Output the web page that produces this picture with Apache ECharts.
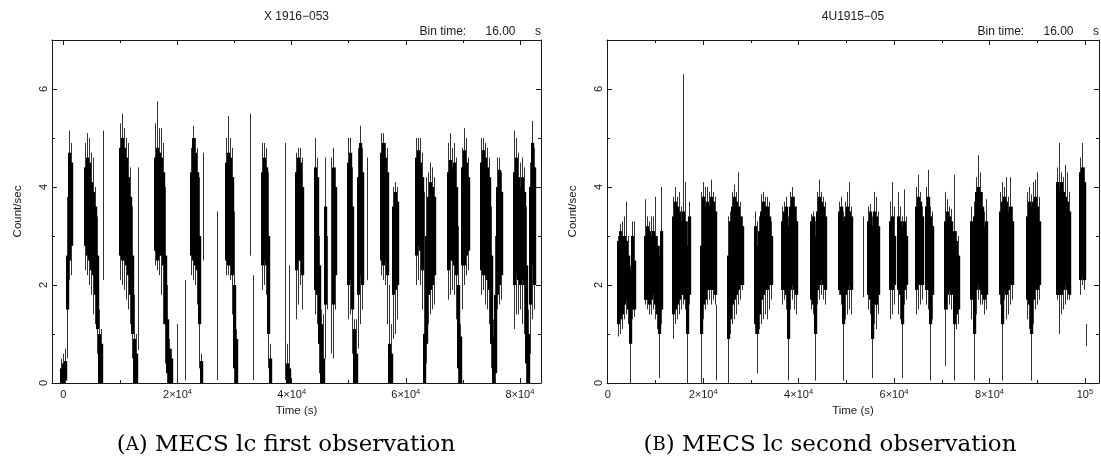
<!DOCTYPE html>
<html><head><meta charset="utf-8">
<script src="https://cdn.jsdelivr.net/npm/echarts@6/dist/echarts.min.js"></script>
<style>html,body{margin:0;padding:0;background:#fff}#c{width:1101px;height:458px}</style>
</head><body><div id="c"></div>
<script>
// ---- data: each row = [time (s), min, lowCore, highCore, max] (count/sec) ----
const lcFirst = [
[-390,0,0,0.3,0.5],[-40,0,0,0.4,0.6],[316,0,0.05,0.45,0.7],[667,0.5,1.5,2.6,3.8],[1017,2.1,2.5,4.7,5.15],[1368,2.2,2.8,4.5,4.9],
[3824,2.3,2.8,4.4,4.9],[4175,2.2,2.6,4.6,5.1],[4526,2.0,2.5,4.5,5.0],[4876,1.8,2.3,4.1,4.7],[5227,1.4,2.2,3.9,4.6],[5578,1.2,1.8,3.6,4.0],[5929,0.6,1.1,2.6,3.4],[6280,0,0,1.0,1.5],[6630,0,0,0.8,1.1],[6981,2.1,2.1,2.1,5.15],
[9963,2.1,2.6,4.8,5.3],[10314,2.0,2.5,5.0,5.5],[10665,1.9,2.5,4.8,5.2],[11015,1.7,2.4,4.6,5.0],[11366,1.5,2.2,4.2,4.9],[11717,1.2,1.8,3.8,4.4],[12068,0.5,1.0,2.6,3.6],[12419,0,0,0.9,1.8],[12769,0,0,0.6,1.0],[13120,0.67,0.67,0.67,4.4],
[16102,2.4,2.7,4.6,5.3],[16453,2.3,2.5,4.8,5.75],[16803,2.2,2.6,4.7,5.2],[17154,1.8,2.6,4.6,5.2],[17505,1.2,2.4,4.3,4.9],[17856,0.4,1.2,2.6,4.0],[18207,0,0.2,1.3,2.0],[18557,0,0,0.7,0.9],[18908,0,0,0.5,0.7],
[19961,0.05,0.05,0.05,1.2],[21364,0.05,0.05,0.05,2.1],
[22416,2.2,2.6,4.3,4.8],[22767,2.1,2.5,5.0,5.25],[23118,2.0,2.4,4.7,5.0],[23469,1.6,2.3,4.3,4.8],[23820,0.3,1.2,3.0,4.2],[24170,0,0,0.45,0.6],[24521,2.5,2.5,2.5,4.7],
[26977,0.06,0.06,0.06,3.5],
[28555,2.2,2.5,4.5,5.0],[28906,2.2,2.4,4.7,5.45],[29257,2.1,2.4,4.6,5.0],[29608,1.4,2.2,4.2,4.8],[29959,0,0.3,2.0,3.5],[30309,0,0,0.9,1.1],
[32765,2.6,2.6,2.6,5.5],[33291,0.06,0.06,0.06,2.2],
[34870,1.9,2.4,4.3,4.9],[35221,2.0,2.5,4.6,4.9],[35571,1.8,2.4,4.4,4.8],[35922,0.3,1.0,3.0,4.3],[36273,0,0,0.5,0.8],
[38904,0.06,0.06,0.06,4.9],[39255,0,0,0.4,0.8],[39606,0,0,0.3,2.4],
[40834,1.3,2.3,4.3,4.7],[41185,1.6,2.5,4.6,4.8],[41535,2.0,2.5,4.5,4.8],[41886,1.5,2.2,4.0,4.6],
[44166,1.4,1.9,4.4,5.0],[44517,1.2,1.8,4.2,4.6],[44868,0.2,0.8,2.4,3.0],[45219,0,0,1.2,1.5],[45569,0,0,0.5,1.4],[45920,0.5,1.6,3.6,4.6],[46271,1.5,1.5,1.5,3.0],[46973,0.6,0.6,0.6,4.6],[47324,0.5,1.6,4.4,4.8],[47674,1.5,2.2,4.0,4.4],
[49955,1.3,2.0,4.5,5.0],[50305,1.4,2.1,4.7,5.0],[50656,0.6,1.5,3.6,4.4],[51007,0,0,1.1,1.3],[51358,0,0,0.6,1.3],[51709,0.7,1.8,4.2,4.8],[52059,1.2,2.2,4.9,5.25],[52410,1.5,2.0,4.3,4.8],[53287,2.1,2.1,2.1,4.6],
[55743,2.2,2.5,4.7,5.1],[56094,2.1,2.4,4.9,5.1],[56445,2.0,2.5,4.6,4.9],[56795,1.2,2.2,4.3,4.8],[57146,0,0,0.8,2.0],[57497,0,0,0.6,1.2],[57848,0.9,1.8,3.6,4.0],[58199,1.0,1.9,3.9,4.1],[58549,1.3,2.0,3.7,4.0],
[61706,2.0,2.6,4.6,5.0],[62057,2.1,2.8,4.75,5.0],[62408,2.0,2.7,4.5,5.0],[62759,1.5,2.3,4.2,4.7],[63110,0,0,1.0,3.9],[63460,0.4,0.8,3.0,4.2],[63811,1.2,1.8,3.8,4.3],[64162,1.4,1.9,4.1,4.5],[64513,1.5,2.0,4.0,4.4],[64864,1.6,2.2,3.8,4.2],
[67319,1.7,2.3,4.3,4.9],[67670,1.8,2.5,4.55,5.1],[68021,1.9,2.5,4.4,4.8],[68372,1.8,2.4,4.5,4.9],[68723,1.3,2.2,4.0,4.6],[69073,0,0.3,2.0,3.2],[69424,0,0,0.95,1.2],[69775,1.5,2.4,4.4,4.8],[70126,2.0,2.4,4.75,5.2],[70477,2.2,2.6,4.5,5.0],[70827,2.3,2.7,4.2,4.6],
[73108,1.8,2.3,4.5,5.0],[73458,1.9,2.2,4.75,5.0],[73809,1.6,2.2,4.6,4.9],[74160,1.5,2.1,4.4,4.8],[74511,1.2,1.9,4.2,4.6],[74862,0.3,0.8,2.6,3.6],[75213,0,0,0.95,1.3],[75563,0,0.2,1.8,3.0],[75914,1.5,1.8,4.0,4.6],[76265,1.6,2.0,4.35,4.6],[76616,1.7,2.2,3.9,4.3],
[78896,1.1,2.0,4.3,5.15],[79247,1.4,2.2,4.6,5.0],[79598,1.4,2.1,4.2,4.7],[79949,1.5,2.0,4.0,4.5],[80300,1.2,2.1,4.2,4.6],[80651,1.0,2.0,3.9,4.4],[81001,0,0.4,2.4,3.6],[81352,0,0,1.0,1.5],[81703,0.6,1.6,4.0,4.5],[82054,1.3,2.4,4.9,5.35],[82405,1.5,2.0,4.4,4.8]
];
const lcSecond = [
[2137,0.95,1.2,2.9,3.0],[2557,1.0,1.3,3.1,3.25],[2976,1.1,1.4,3.0,3.3],[3395,1.3,1.6,3.0,3.4],[3814,1.4,1.7,2.9,3.7],[4234,1.2,1.5,2.6,3.0],[4653,0,0.8,2.3,2.4],[5072,1.3,1.5,3.0,3.3],[5491,1.35,1.5,2.5,3.3],
[7797,1.6,1.7,3.0,3.75],[8216,1.5,1.7,3.2,3.4],[8635,1.4,1.6,3.1,3.3],[9055,1.4,1.7,3.0,3.4],[9474,1.5,1.8,3.1,3.4],[9893,1.3,1.6,3.0,3.8],[10312,1.1,1.4,2.8,3.0],[10731,0.1,1.0,2.6,2.8],[11151,1.2,1.5,3.1,4.0],
[13666,0.9,1.4,3.4,3.8],[14085,1.2,1.5,3.7,4.0],[14504,1.3,1.6,3.6,3.8],[14924,1.4,1.7,3.5,3.9],[15343,1.5,1.8,3.3,3.6],[15762,1.6,1.8,3.5,6.3],[16181,1.5,1.7,3.3,4.1],[16600,0,1.0,2.8,3.3],[17020,1.6,1.8,3.4,3.7],
[19535,0,1.0,2.8,3.9],[19954,1.3,1.6,3.8,4.1],[20373,1.5,1.7,3.6,4.0],[20792,1.6,1.9,3.7,4.0],[21212,1.7,1.9,3.6,3.9],[21631,1.6,1.9,3.8,4.15],[22050,1.7,1.9,3.7,3.9],[22469,1.6,1.8,3.5,3.8],[22784,0.05,0.05,0.05,1.6],
[25300,0,0.9,2.6,3.4],[25719,1.0,1.3,3.3,3.5],[26138,1.2,1.6,3.6,3.9],[26557,1.3,1.7,3.8,4.05],[26976,1.4,1.8,3.7,3.9],[27396,1.6,1.9,3.6,4.3],[27815,1.7,2.0,3.4,3.7],[28234,1.9,2.0,3.2,3.4],
[30959,1.0,1.2,3.2,3.5],[31378,0.2,1.0,2.8,3.3],[31797,1.1,1.4,3.1,3.4],[32216,1.2,1.7,3.5,3.85],[32635,1.3,1.8,3.7,3.9],[33055,1.4,1.9,3.6,3.8],[33474,1.3,1.9,3.6,3.8],[33893,1.5,2.0,3.4,3.7],[34312,1.7,2.0,3.0,3.3],
[36618,1.6,1.9,3.3,3.6],[37037,1.7,1.9,3.5,3.7],[37456,1.5,1.8,3.6,3.8],[37875,0.05,0.9,3.2,3.4],[38295,1.5,1.9,3.6,3.9],[38714,1.7,2.0,3.8,4.0],[39133,1.5,1.9,3.6,3.8],[39552,1.4,1.8,3.3,3.6],
[42696,1.5,1.7,3.3,3.45],[43115,1.4,1.6,3.4,3.5],[43535,0.05,1.0,3.0,3.3],[43954,1.6,1.9,3.5,3.9],[44373,1.7,2.0,3.8,4.15],[44792,1.8,2.1,3.7,3.9],[45211,1.7,2.0,3.6,3.8],[45630,1.6,1.9,3.4,3.7],
[48565,1.8,1.9,3.5,3.7],[48984,1.6,1.8,3.6,3.8],[49403,0.05,1.2,3.3,3.5],[49822,1.3,1.8,3.4,3.7],[50242,1.4,1.9,3.6,3.9],[50661,1.5,2.0,3.5,4.1],[51080,1.4,1.9,3.4,3.6],
[53595,1.75,1.75,1.75,3.4],
[54643,1.5,1.8,3.3,3.6],[55063,1.4,1.7,3.5,3.65],[55482,0.1,0.9,3.2,3.4],[55901,1.2,1.6,3.5,3.9],[56320,1.1,1.6,3.4,3.8],[56739,1.4,1.8,3.2,3.5],
[59254,1.3,1.9,3.3,3.7],[59674,1.4,1.9,3.4,4.1],[60093,1.6,2.0,3.0,3.6],[60931,1.4,1.9,3.4,3.9],[61350,1.3,1.8,3.3,3.6],[61770,0.1,1.2,3.2,3.4],[62189,1.6,1.9,3.3,3.95],[62608,1.7,2.0,3.0,3.4],
[64704,1.4,1.9,3.6,4.0],[65123,1.5,2.0,3.8,4.25],[65543,1.6,2.0,3.7,3.9],[65962,1.7,2.0,3.4,3.6],[66800,1.6,1.9,3.6,4.0],[67219,1.5,1.9,3.8,4.35],[67639,0.05,1.2,3.4,3.6],[68058,1.3,1.8,3.2,3.5],
[70783,0.35,1.5,3.3,3.9],[71202,1.5,1.8,3.5,3.75],[71621,1.6,1.9,3.4,3.6],[72040,1.5,1.8,3.3,3.55],[72669,0.05,1.2,3.1,4.25],[73088,1.1,1.4,2.9,3.1],[73507,1.2,1.5,2.6,3.0],
[76232,1.3,1.7,3.3,3.6],[76652,0.05,1.0,3.4,3.7],[77071,1.4,1.9,3.9,4.2],[77490,1.7,2.0,4.0,4.65],[77909,1.6,1.9,3.9,4.3],[78328,1.6,1.8,3.6,3.9],[78747,1.4,1.7,3.2,3.5],[79167,1.5,1.8,3.3,3.75],
[82101,1.6,1.8,3.5,3.9],[82520,0.05,1.2,3.7,4.1],[82940,1.7,1.9,3.8,4.0],[83359,1.3,1.8,3.7,4.2],[83778,1.4,1.9,3.5,3.8],[84197,1.6,2.0,3.6,4.2],[84616,1.7,2.0,3.3,3.6],
[87760,1.3,1.7,3.4,3.9],[88180,1.1,1.6,3.7,4.0],[88599,0.05,1.0,3.6,3.85],[89018,1.2,1.7,3.7,4.1],[89437,1.5,1.9,3.8,4.15],[89856,1.6,1.9,3.6,4.3],[90276,1.7,2.0,3.3,3.8],
[94049,1.7,1.8,4.1,4.4],[94468,1.0,1.8,4.0,4.9],[94887,1.4,1.8,4.1,4.3],[95306,1.5,1.9,3.9,4.2],[95725,1.6,2.0,3.8,4.45],[96145,1.7,1.9,3.7,4.3],[96564,1.7,1.8,3.5,3.9],
[98869,1.8,2.1,4.3,4.6],[99289,2.0,2.2,4.4,4.9],[99708,1.9,2.1,4.1,4.4],[100127,0.75,0.75,0.75,1.2]
];
const yMajor = [0, 2, 4, 6];
const yMinor = [1, 3, 5];
const xMajorA = [0, 20000, 40000, 60000, 80000];
const xMinorA = [10000, 30000, 50000, 70000];
const xMajorB = [0, 20000, 40000, 60000, 80000, 100000];
const xMinorB = [10000, 30000, 50000, 70000, 90000];
const titles = ['X 1916\u2212053', '4U1915\u221205'];
const binText = ['Bin time:', '16.00', 's'];
const captions = [['A', ' MECS lc first observation'], ['B', ' MECS lc second observation']];

// ---- drawing ----
const SANS = 'Liberation Sans, Arial, Helvetica, sans-serif';
const INK = '#1a1a1a';
const chart = echarts.init(document.getElementById('c'), null, {renderer: 'canvas'});
const grids = [
  {left: 52, top: 40, width: 489, height: 343, xMin: -2000, xMax: 83700, major: xMajorA, minor: xMinorA, bin: 351},
  {left: 607, top: 40, width: 492, height: 343, xMin: -150, xMax: 102950, major: xMajorB, minor: xMinorB, bin: 419}
];
function xLabel(v) {
  if (v === 0) return '{m|0}';
  if (v === 100000) return '{m|10}{s|5}';
  return '{m|' + (v / 10000) + '\u00d710}{s|4}';
}
const xAxes = [], yAxes = [];
grids.forEach((g, gi) => {
  const lineStyle = {color: INK, width: 1};
  const frame = {show: true, onZero: false, lineStyle};
  const noLine = {show: false, onZero: false};
  const base = {type: 'value', gridIndex: gi, min: g.xMin, max: g.xMax, splitLine: {show: false}};
  xAxes.push(Object.assign({}, base, {
    position: 'bottom', axisLine: frame,
    axisTick: {show: true, inside: true, length: 5, customValues: g.major, lineStyle},
    axisLabel: {show: true, customValues: g.major, formatter: xLabel, margin: 5,
      rich: {m: {fontSize: 11, fontFamily: SANS, color: INK, lineHeight: 13},
             s: {fontSize: 7.5, fontFamily: SANS, color: INK, verticalAlign: 'top'}}},
    name: 'Time (s)', nameLocation: 'middle', nameGap: 21,
    nameTextStyle: {fontSize: 11.5, fontFamily: SANS, color: INK}
  }));
  xAxes.push(Object.assign({}, base, {position: 'top', axisLine: frame,
    axisTick: {show: true, inside: true, length: 5, customValues: g.major, lineStyle}, axisLabel: {show: false}}));
  xAxes.push(Object.assign({}, base, {position: 'bottom', axisLine: noLine,
    axisTick: {show: true, inside: true, length: 3, customValues: g.minor, lineStyle}, axisLabel: {show: false}}));
  xAxes.push(Object.assign({}, base, {position: 'top', axisLine: noLine,
    axisTick: {show: true, inside: true, length: 3, customValues: g.minor, lineStyle}, axisLabel: {show: false}}));
  const ybase = {type: 'value', gridIndex: gi, min: 0, max: 7, splitLine: {show: false}};
  yAxes.push(Object.assign({}, ybase, {position: 'left', axisLine: frame,
    axisTick: {show: true, inside: true, length: 5, customValues: yMajor, lineStyle},
    axisLabel: {show: true, customValues: yMajor, rotate: 90, margin: 3, fontSize: 11, fontFamily: SANS, color: INK},
    name: 'Count/sec', nameLocation: 'middle', nameGap: 28, nameRotate: 90,
    nameTextStyle: {fontSize: 11.5, fontFamily: SANS, color: INK}}));
  yAxes.push(Object.assign({}, ybase, {position: 'right', axisLine: frame,
    axisTick: {show: true, inside: true, length: 5, customValues: yMajor, lineStyle}, axisLabel: {show: false}}));
  yAxes.push(Object.assign({}, ybase, {position: 'left', axisLine: noLine,
    axisTick: {show: true, inside: true, length: 3, customValues: yMinor, lineStyle}, axisLabel: {show: false}}));
  yAxes.push(Object.assign({}, ybase, {position: 'right', axisLine: noLine,
    axisTick: {show: true, inside: true, length: 3, customValues: yMinor, lineStyle}, axisLabel: {show: false}}));
});
function makeRender(bin) {
  return function (params, api) {
    const t = api.value(0), mn = api.value(1), lo = api.value(2), hi = api.value(3), mx = api.value(4);
    const pMin = api.coord([t, mn]), pMax = api.coord([t, mx]);
    const pLo = api.coord([t, lo]), pHi = api.coord([t, hi]);
    const w = api.size([bin, 0])[0];
    const x = Math.round(pMin[0]);
    const kids = [{type: 'line', shape: {x1: x + 0.5, y1: pMin[1], x2: x + 0.5, y2: pMax[1]},
      style: {stroke: '#333', lineWidth: 1}}];
    if (hi > lo) kids.push({type: 'rect', shape: {x: x - w / 2, y: pHi[1], width: w + 1.2, height: pLo[1] - pHi[1]},
      style: {fill: '#000'}});
    return {type: 'group', children: kids};
  };
}
const graphic = [];
grids.forEach((g, gi) => {
  const R = g.left + g.width;
  graphic.push({type: 'text', x: g.left + g.width / 2, y: 17, style: {text: titles[gi], font: '12px ' + SANS, fill: INK, textAlign: 'center', textVerticalAlign: 'middle', align: 'center', verticalAlign: 'middle'}});
  graphic.push({type: 'text', x: R - 121.5, y: 32, style: {text: binText[0], font: '12px ' + SANS, fill: INK, textAlign: 'left', textVerticalAlign: 'middle', align: 'left', verticalAlign: 'middle'}});
  graphic.push({type: 'text', x: R - 55.5, y: 32, style: {text: binText[1], font: '12px ' + SANS, fill: INK, textAlign: 'left', textVerticalAlign: 'middle', align: 'left', verticalAlign: 'middle'}});
  graphic.push({type: 'text', x: R - 6, y: 32, style: {text: binText[2], font: '12px ' + SANS, fill: INK, textAlign: 'left', textVerticalAlign: 'middle', align: 'left', verticalAlign: 'middle'}});
});
const capX = [286, 830];
captions.forEach((c, i) => {
  graphic.push({type: 'text', x: capX[i], y: 445, style: {
    text: '{n|(}{sc|' + c[0] + '}{n|)' + c[1] + '}',
    rich: {n: {fontSize: 23, fontFamily: 'DejaVu Serif, serif', color: '#111'},
           sc: {fontSize: 18, fontFamily: 'DejaVu Serif, serif', color: '#111'}},
    textAlign: 'center', textVerticalAlign: 'middle', align: 'center', verticalAlign: 'middle'}});
});
chart.setOption({
  animation: false,
  backgroundColor: '#fff',
  grid: grids.map(g => ({left: g.left, top: g.top, width: g.width, height: g.height, containLabel: false})),
  xAxis: xAxes,
  yAxis: yAxes,
  series: [
    {type: 'custom', xAxisIndex: 0, yAxisIndex: 0, data: lcFirst, renderItem: makeRender(grids[0].bin), clip: true, silent: true, encode: {x: 0, y: [1, 4]}},
    {type: 'custom', xAxisIndex: 4, yAxisIndex: 4, data: lcSecond, renderItem: makeRender(grids[1].bin), clip: true, silent: true, encode: {x: 0, y: [1, 4]}}
  ],
  graphic: graphic
});
</script></body></html>
